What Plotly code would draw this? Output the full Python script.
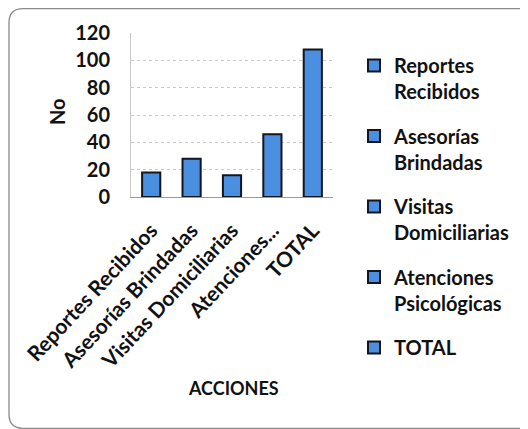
import plotly.graph_objects as go

categories = ["Reportes Recibidos", "Asesorías Brindadas", "Visitas Domiciliarias", "Atenciones...", "TOTAL"]
legend_names = ["Reportes<br>Recibidos", "Asesorías<br>Brindadas", "Visitas<br>Domiciliarias", "Atenciones<br>Psicológicas", "TOTAL"]
values = [18, 28, 16, 46, 108]
y_ticks = [0, 20, 40, 60, 80, 100, 120]

# the page has an 8px body margin; figure is sized to fit the 528x429 window
OFF = 8
W, H = 528 - OFF, 429 - OFF
# plot area in page (screenshot) pixels
L, R, T, B = 131, 333, 33, 197

FONT = "Lato"
TXT = "#111111"
bar_color = "#4a8fe0"
edge_color = "#15151f"


def px(x):
    return (x - L) / (R - L)


def py(y):
    return 1 - (y - T) / (B - T)


fig = go.Figure()
for cat, name, v in zip(categories, legend_names, values):
    fig.add_trace(go.Bar(
        x=[cat], y=[v], name=name, legendgroup=name,
        marker=dict(color=bar_color, line=dict(color=edge_color, width=2)),
        width=0.45,
    ))

# rounded border path (page pixel coords -> paper)
x0, x1, y0, y1, r = 9, 540, 8.7, 428.3, 14
border = (
    f"M {px(x0 + r)},{py(y0)} L {px(x1 - r)},{py(y0)} "
    f"Q {px(x1)},{py(y0)} {px(x1)},{py(y0 + r)} "
    f"L {px(x1)},{py(y1 - r)} Q {px(x1)},{py(y1)} {px(x1 - r)},{py(y1)} "
    f"L {px(x0 + r)},{py(y1)} Q {px(x0)},{py(y1)} {px(x0)},{py(y1 - r)} "
    f"L {px(x0)},{py(y0 + r)} Q {px(x0)},{py(y0)} {px(x0 + r)},{py(y0)} Z"
)

fig.update_layout(
    width=W, height=H,
    margin=dict(l=L - OFF, r=528 - R, t=T - OFF, b=429 - B, autoexpand=False),
    paper_bgcolor="white", plot_bgcolor="white",
    barmode="overlay",
    font=dict(family=FONT, color=TXT),
    showlegend=True,
    legend=dict(
        x=px(354), y=py(46),
        xanchor="left", yanchor="top",
        font=dict(family=FONT, size=20, color=TXT, weight="bold"),
        tracegroupgap=15.5, valign="top",
        itemwidth=30, bgcolor="rgba(0,0,0,0)",
        maxheight=400,
    ),
    xaxis=dict(
        tickangle=-47, tickfont=dict(family=FONT, size=21, color=TXT, weight="bold"),
        showline=True, linecolor="#9a9a9a", linewidth=1,
        showgrid=False, ticks="", automargin=False,
        ticklabelstandoff=12,
    ),
    yaxis=dict(
        range=[0, 120], tickvals=y_ticks,
        tickfont=dict(family=FONT, size=20, color=TXT, weight="bold"),
        showgrid=True, gridcolor="#c8c8c8", griddash="dot", gridwidth=1,
        showline=True, linecolor="#c8c8c8", linewidth=1,
        ticks="", ticklen=0, automargin=False, zeroline=False,
        ticklabelstandoff=16,
    ),
    annotations=[
        dict(text="No", xref="paper", yref="paper",
             x=px(57), y=py(112), xanchor="center", yanchor="middle",
             showarrow=False, textangle=-90,
             font=dict(family=FONT, size=20, color=TXT, weight="bold")),
        dict(text="ACCIONES", xref="paper", yref="paper",
             x=px(233), y=py(388), xanchor="center", yanchor="middle",
             showarrow=False,
             font=dict(family=FONT, size=18, color=TXT, weight="bold")),
    ],
    shapes=[
        dict(type="path", xref="paper", yref="paper", path=border,
             line=dict(color="#8a8a8a", width=1.3), layer="below"),
    ],
)

fig.write_html("out.html")
